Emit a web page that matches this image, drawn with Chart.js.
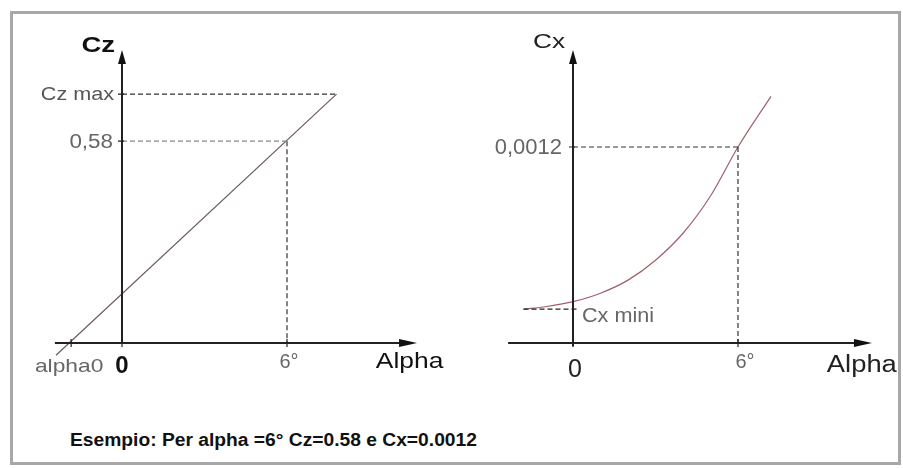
<!DOCTYPE html>
<html>
<head>
<meta charset="utf-8">
<script src="https://cdn.jsdelivr.net/npm/chart.js@4"></script>
<style>
  body { margin: 0; background: #fff; }
  #wrap { position: relative; width: 903px; height: 468px; background: #fff; overflow: hidden; }
  #frame { position: absolute; left: 10px; top: 11px; width: 891px; height: 454px; border: 3px solid #a8a8a8; box-sizing: border-box; }
  canvas { position: absolute; top: 12px; }
  #left { left: 12px; }
  #right { left: 452px; }
  #caption { position: absolute; left: 70px; top: 430px; font: bold 18px "Liberation Sans", Arial, sans-serif; color: #111; white-space: nowrap; transform-origin: 0 0; }
</style>
</head>
<body>
<div id="wrap">
  <div id="frame"></div>
  <canvas id="left" width="440" height="390"></canvas>
  <canvas id="right" width="451" height="390"></canvas>
  <div id="caption">Esempio: Per alpha =6° Cz=0.58 e Cx=0.0012</div>
</div>
<script>
// Cz = f(alpha), straight line
const czAlpha = [-2.4, 7.8];
const czValues = [-0.035, 0.715];
const czMax = 0.715;
const czRef = 0.58;
const alpha0 = -1.85;
const alphaRef = 6;

// Cx = f(alpha), polar curve
const cxAlpha = [-1.8, -1.0, 0, 1, 2, 3, 4, 5, 6, 7.2];
const cxValues = [0.000208, 0.000222, 0.000253, 0.000305, 0.000385, 0.000507, 0.000672, 0.0009, 0.0012, 0.00151];
const cxMini = 0.000208;
const cxRef = 0.0012;

const font = '"Liberation Sans", Arial, sans-serif';

function pts(xs, ys) {
  return xs.map((x, i) => ({ x: x, y: ys[i] }));
}

function guide(data, color) {
  return {
    data: data, showLine: true, pointRadius: 0, borderWidth: 1.2,
    borderColor: color, borderDash: [5, 3], tension: 0
  };
}

// axes, arrows, ticks and labels
const sketchPlugin = {
  id: "sketch",
  afterDatasetsDraw(chart) {
    const o = chart.options.plugins.sketch;
    const ctx = chart.ctx;
    const xs = chart.scales.x, ys = chart.scales.y;
    const ox = xs.getPixelForValue(0), oy = ys.getPixelForValue(0);
    const xEnd = xs.getPixelForValue(o.xTip), yEnd = ys.getPixelForValue(o.yTip);
    ctx.save();
    ctx.strokeStyle = "#222";
    ctx.fillStyle = "#111";
    ctx.lineWidth = 2;
    ctx.beginPath();
    ctx.moveTo(xs.getPixelForValue(o.xStart), oy);
    ctx.lineTo(xEnd - 10, oy);
    ctx.moveTo(ox, ys.getPixelForValue(o.yStart));
    ctx.lineTo(ox, yEnd + 10);
    ctx.stroke();
    // arrow heads
    ctx.beginPath();
    ctx.moveTo(xEnd, oy);
    ctx.lineTo(xEnd - 18, oy - 4);
    ctx.lineTo(xEnd - 18, oy + 4);
    ctx.closePath();
    ctx.fill();
    ctx.beginPath();
    ctx.moveTo(ox, yEnd);
    ctx.lineTo(ox - 4, yEnd + 14);
    ctx.lineTo(ox + 4, yEnd + 14);
    ctx.closePath();
    ctx.fill();
    // ticks
    ctx.lineWidth = 1.2;
    ctx.beginPath();
    o.xTicks.forEach(v => {
      const p = xs.getPixelForValue(v);
      ctx.moveTo(p, oy - 4); ctx.lineTo(p, oy + 4);
    });
    o.yTicks.forEach(v => {
      const p = ys.getPixelForValue(v);
      ctx.moveTo(ox - 4, p); ctx.lineTo(ox + 2, p);
    });
    ctx.stroke();
    // labels
    o.labels.forEach(l => {
      const px = (l.ax === undefined ? ox : xs.getPixelForValue(l.ax)) + l.dx;
      const py = (l.ay === undefined ? oy : ys.getPixelForValue(l.ay)) + l.dy;
      ctx.save();
      ctx.font = l.font;
      ctx.fillStyle = l.color;
      ctx.textAlign = l.align;
      ctx.textBaseline = l.base || "alphabetic";
      ctx.translate(px, py);
      ctx.scale(l.stretch || 1, 1);
      ctx.fillText(l.text, 0, 0);
      ctx.restore();
    });
    ctx.restore();
  }
};

function makeChart(id, datasets, xr, yr, sketch) {
  return new Chart(document.getElementById(id), {
    type: "scatter",
    data: { datasets: datasets },
    options: {
      responsive: false,
      animation: false,
      devicePixelRatio: 1,
      layout: { padding: 0 },
      scales: {
        x: { type: "linear", min: xr[0], max: xr[1], display: false },
        y: { type: "linear", min: yr[0], max: yr[1], display: false }
      },
      plugins: { legend: { display: false }, tooltip: { enabled: false }, sketch: sketch }
    },
    plugins: [sketchPlugin]
  });
}

makeChart("left", [
  guide([{ x: 0, y: czMax }, { x: czAlpha[1], y: czMax }], "#333"),
  guide([{ x: 0, y: czRef }, { x: alphaRef, y: czRef }], "#888"),
  guide([{ x: alphaRef, y: czRef }, { x: alphaRef, y: 0 }], "#333"),
  {
    data: pts(czAlpha, czValues), showLine: true, pointRadius: 0,
    borderWidth: 1.2, borderColor: "#6b5a5c"
  }
], [-4, 12], [-0.1695, 0.9511], {
  xStart: -2.44, xTip: 10.73, yStart: 0, yTip: 0.842,
  xTicks: [alpha0, 0, alphaRef], yTicks: [czMax, czRef],
  labels: [
    { text: "Cz", ay: 0.842, dx: -7, dy: 2, font: "bold 22px " + font, color: "#111", align: "right", stretch: 1.25 },
    { text: "Cz max", ay: czMax, dx: -8, dy: 1, font: "18px " + font, color: "#555", align: "right", base: "middle", stretch: 1.2 },
    { text: "0,58", ay: czRef, dx: -9, dy: 1, font: "20px " + font, color: "#666", align: "right", base: "middle", stretch: 1.12 },
    { text: "alpha0", ax: alpha0, dx: -2, dy: 29, font: "19px " + font, color: "#666", align: "center", stretch: 1.2 },
    { text: "0", ax: 0, dx: 0, dy: 30, font: "bold 24px " + font, color: "#111", align: "center" },
    { text: "6°", ax: alphaRef, dx: 2, dy: 25, font: "20px " + font, color: "#666", align: "center" },
    { text: "Alpha", ax: 9.23, dx: 0, dy: 25, font: "22px " + font, color: "#111", align: "left", stretch: 1.2 }
  ]
});

makeChart("right", [
  guide([{ x: 0, y: cxRef }, { x: alphaRef, y: cxRef }], "#333"),
  guide([{ x: alphaRef, y: cxRef }, { x: alphaRef, y: 0 }], "#333"),
  guide([{ x: cxAlpha[0], y: cxMini }, { x: 0.2, y: cxMini }], "#222"),
  {
    data: pts(cxAlpha, cxValues), showLine: true, pointRadius: 0,
    borderWidth: 1.2, borderColor: "#a0606c", tension: 0.4, cubicInterpolationMode: "monotone"
  }
], [-4.4, 12.0], [-0.0003612, 0.0020265], {
  xStart: -2.36, xTip: 10.87, yStart: -0.00002, yTip: 0.001794,
  xTicks: [0, alphaRef], yTicks: [cxRef],
  labels: [
    { text: "Cx", ay: 0.001794, dx: -8, dy: -2, font: "21px " + font, color: "#222", align: "right", stretch: 1.25 },
    { text: "0,0012", ay: cxRef, dx: -11, dy: 1, font: "22px " + font, color: "#666", align: "right", base: "middle" },
    { text: "Cx mini", ay: cxMini, dx: 9, dy: 13, font: "20px " + font, color: "#666", align: "left", stretch: 1.08 },
    { text: "0", ax: 0, dx: 2, dy: 34, font: "25px " + font, color: "#222", align: "center" },
    { text: "6°", ax: alphaRef, dx: 7, dy: 25, font: "20px " + font, color: "#666", align: "center" },
    { text: "Alpha", ax: 9.23, dx: 0, dy: 29, font: "23px " + font, color: "#222", align: "left", stretch: 1.19 }
  ]
});

// fit caption to the width seen in the picture
const cap = document.getElementById("caption");
cap.style.transform = "scaleX(" + (407 / cap.offsetWidth) + ")";
</script>
</body>
</html>
